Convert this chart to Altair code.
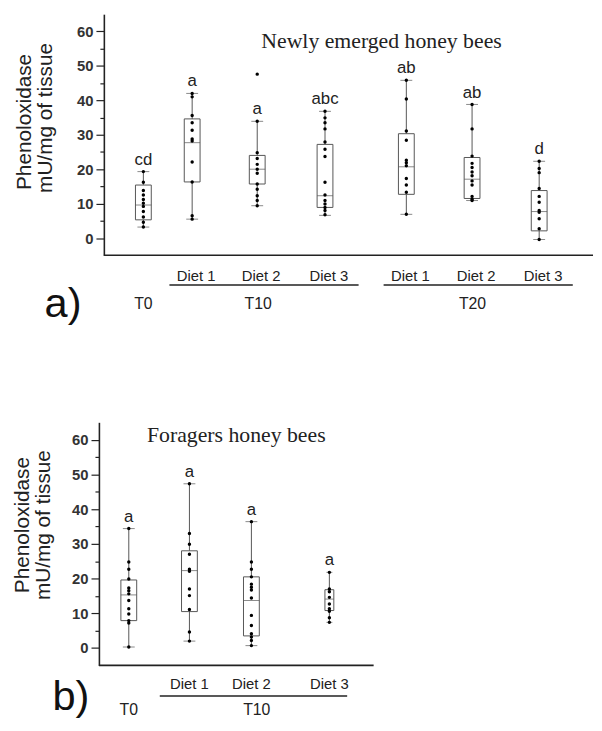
import altair as alt
import pandas as pd

FONT = "Liberation Sans"
SERIF = "Liberation Serif"
INK = "#222222"
BOXC = "#555555"

# ---------------- panel a : newly emerged honey bees ----------------
a_title = "Newly emerged honey bees"
a_group = ["T0", "Diet 1", "Diet 2", "Diet 3", "Diet 1", "Diet 2", "Diet 3"]
a_time = ["T0", "T10", "T10", "T10", "T20", "T20", "T20"]
a_pos = [0.51, 1.23, 2.19, 3.19, 4.39, 5.36, 6.35]
a_letter = ["cd", "a", "a", "abc", "ab", "ab", "d"]
a_min = [3.2, 5.5, 9.4, 6.6, 6.9, 10.9, -0.4]
a_q1 = [5.3, 16.3, 15.7, 8.9, 12.7, 11.5, 2.1]
a_med = [9.6, 27.7, 20.0, 12.3, 20.7, 17.1, 7.7]
a_q3 = [15.4, 34.6, 24.0, 27.2, 30.3, 23.4, 13.8]
a_max = [19.3, 42.0, 33.9, 36.8, 45.8, 38.8, 22.3]
a_points = [
    [19.3, 16.2, 13.8, 12.5, 11.2, 10.1, 9.2, 7.7, 6.1, 4.6, 3.2],
    [42.0, 41.0, 35.6, 33.5, 31.3, 28.8, 28.2, 22.1, 16.3, 6.5, 5.5],
    [47.6, 33.9, 24.8, 23.1, 21.4, 20.0, 18.8, 15.7, 14.2, 12.3, 10.9, 9.4],
    [36.8, 34.9, 33.5, 31.7, 27.9, 25.8, 23.7, 16.2, 12.5, 10.9, 9.9, 8.9, 8.0, 6.8],
    [45.8, 40.4, 31.1, 28.4, 22.6, 21.9, 21.0, 17.3, 15.4, 13.3, 6.9],
    [38.8, 31.7, 23.8, 21.7, 20.5, 19.2, 18.1, 16.6, 15.4, 12.1, 11.3, 10.9],
    [22.3, 20.2, 19.0, 14.4, 12.1, 10.4, 8.0, 7.5, 5.6, 2.7, -0.4],
]

# ---------------- panel b : foragers honey bees ----------------
b_title = "Foragers honey bees"
b_group = ["T0", "Diet 1", "Diet 2", "Diet 3"]
b_time = ["T0", "T10", "T10", "T10"]
b_pos = [0.30, 1.21, 2.14, 3.31]
b_letter = ["a", "a", "a", "a"]
b_min = [0.3, 2.0, 0.7, 7.4]
b_q1 = [7.9, 10.5, 3.5, 10.8]
b_med = [15.3, 22.3, 13.7, 14.1]
b_q3 = [19.6, 28.0, 20.5, 16.8]
b_max = [34.4, 47.3, 36.4, 21.8]
b_points = [
    [34.4, 24.8, 22.7, 19.9, 17.3, 16.5, 15.6, 13.7, 11.3, 9.8, 7.9, 7.2, 0.3],
    [47.3, 33.0, 29.9, 27.0, 22.7, 22.1, 17.0, 15.1, 11.1, 4.6, 2.0],
    [36.4, 24.8, 22.7, 20.5, 18.4, 17.5, 16.7, 14.4, 9.4, 6.5, 4.1, 3.2, 2.2, 0.7],
    [21.8, 17.0, 16.2, 14.6, 12.7, 11.3, 10.6, 8.7, 7.4],
]

Y_TITLE = ["Phenoloxidase", "mU/mg of tissue"]
Y_TICKS = list(range(0, 61, 5))


def panel(group, time, pos, letter, vmin, q1, med, q3, vmax, points, *,
          width, height, xmax, axis_offset, title, title_xy, ylab_xy,
          diet_y, diet_dx, line_y, line_off, time_y, tag, tag_xy,
          narrow_test, xline_start, anchor=False):
    df = pd.DataFrame(dict(group=group, time=time, pos=pos, letter=letter,
                           vmin=vmin, q1=q1, med=med, q3=q3, vmax=vmax))
    pts = pd.DataFrame([{"pos": p, "value": v}
                        for p, vals in zip(pos, points) for v in vals])
    xs = alt.Scale(domain=[0, xmax], nice=False, zero=False)
    ys = alt.Scale(domain=[-5, 65], nice=False, zero=False)
    X = alt.X("pos:Q", scale=xs, axis=None)
    yaxis = alt.Axis(
        values=Y_TICKS, title=None, grid=False, offset=axis_offset,
        labelExpr="datum.value % 10 === 0 ? datum.label : ''",
        tickSize={"condition": {"test": "datum.value % 10 === 0", "value": 8}, "value": 4},
        tickColor=INK, tickWidth=1.2, domainColor=INK, domainWidth=1.6,
        labelFont=FONT, labelFontSize=15, labelFontWeight="bold",
        labelColor="#333333", labelPadding=3, labelOverlap=False,
    )

    def Y(field):
        return alt.Y(field, type="quantitative", scale=ys, axis=yaxis)

    base = alt.Chart(df)
    wide = alt.condition(narrow_test, alt.value(9), alt.value(16))
    capw = alt.condition(narrow_test, alt.value(6), alt.value(12))

    layers = []
    one = pd.DataFrame({"t": [""]})
    if anchor:
        layers.append(alt.Chart(one).mark_rule(strokeOpacity=0).encode(
            x=alt.value(-97), x2=alt.value(-97), y=alt.value(-2), y2=alt.value(-2)))

    whisk = base.mark_rule(color=BOXC, strokeWidth=1).encode(
        x=X, y=Y("vmin"), y2="vmax:Q")
    box = base.mark_bar(fill="white", stroke=BOXC, strokeWidth=1).encode(
        x=X, y=Y("q1"), y2="q3:Q", size=wide)
    median = base.mark_tick(orient="horizontal", thickness=1, color=BOXC).encode(
        x=X, y=Y("med"), size=wide)
    cap_lo = base.mark_tick(orient="horizontal", thickness=1, color=BOXC).encode(
        x=X, y=Y("vmin"), size=capw)
    cap_hi = base.mark_tick(orient="horizontal", thickness=1, color=BOXC).encode(
        x=X, y=Y("vmax"), size=capw)
    dots = alt.Chart(pts).mark_circle(size=12, color="black", opacity=1).encode(
        x=X, y=Y("value"))
    letters = base.mark_text(font=FONT, fontSize=17, color=INK, baseline="alphabetic",
                             dy=-7).encode(
        x=X, y=Y("vmax"), text="letter:N")
    layers += [whisk, box, median, cap_lo, cap_hi, dots, letters]

    # title inside the plot
    layers.append(alt.Chart(pd.DataFrame({"t": [title]})).mark_text(
        font=SERIF, fontSize=22, color=INK, align="center", baseline="middle").encode(
        text="t:N", x=alt.value(title_xy[0]), y=alt.value(title_xy[1])))
    # y axis title (two lines)
    for txt, (tx, ty) in zip(Y_TITLE, ylab_xy):
        layers.append(alt.Chart(pd.DataFrame({"t": [txt]})).mark_text(
            font=FONT, fontSize=21, color=INK, angle=270, align="center",
            baseline="middle").encode(text="t:N", x=alt.value(tx), y=alt.value(ty)))
    # x axis line
    layers.append(alt.Chart(one).mark_rule(color=INK, strokeWidth=1.6).encode(
        x=alt.value(xline_start), x2=alt.value(width), y=alt.value(height)))
    # diet labels
    layers.append(base.transform_filter("datum.time != 'T0'").mark_text(
        font=FONT, fontSize=15, color=INK, baseline="middle", dx=diet_dx).encode(
        x=X, y=alt.value(diet_y), text="group:N"))
    # group lines
    layers.append(base.transform_filter("datum.time != 'T0'").transform_aggregate(
        p0="min(pos)", p1="max(pos)", groupby=["time"]).mark_rule(
        color=INK, strokeWidth=1.5, xOffset=line_off[0], x2Offset=line_off[1]).encode(
        x=alt.X("p0:Q", scale=xs, axis=None), x2="p1:Q", y=alt.value(line_y)))
    # time labels
    layers.append(base.transform_aggregate(mp="mean(pos)", groupby=["time"]).mark_text(
        font=FONT, fontSize=16, color=INK, baseline="middle").encode(
        x=alt.X("mp:Q", scale=xs, axis=None), y=alt.value(time_y), text="time:N"))
    # panel tag
    layers.append(alt.Chart(pd.DataFrame({"t": [tag]})).mark_text(
        font=FONT, fontSize=42, color="#111111", align="left", baseline="alphabetic").encode(
        text="t:N", x=alt.value(tag_xy[0]), y=alt.value(tag_xy[1])))

    return alt.layer(*layers).properties(width=width, height=height)


top = panel(a_group, a_time, a_pos, a_letter, a_min, a_q1, a_med, a_q3, a_max, a_points,
            width=495, height=244, xmax=495 / 70, axis_offset=0,
            title=a_title, title_xy=(281, 27),
            ylab_xy=[(-80, 109), (-58, 105)],
            diet_y=265, diet_dx=4, line_y=274, line_off=(-23, 34), time_y=293,
            tag="a)", tag_xy=(-60, 306), narrow_test="false", xline_start=0,
            anchor=True)

bottom = panel(b_group, b_time, b_pos, b_letter, b_min, b_q1, b_med, b_q3, b_max, b_points,
               width=273, height=246, xmax=273 / 70, axis_offset=5,
               title=b_title, title_xy=(134, 13),
               ylab_xy=[(-82, 104), (-60, 104)],
               diet_y=265, diet_dx=0, line_y=277, line_off=(-30, 18), time_y=291,
               tag="b)", tag_xy=(-52, 291), narrow_test="datum.group == 'Diet 3'",
               xline_start=-5)

chart = alt.vconcat(top, bottom, spacing=169, bounds="flush").properties(
    padding=0
).configure_view(stroke=None)

chart.save("out.html", embed_options={"renderer": "svg", "actions": False})
